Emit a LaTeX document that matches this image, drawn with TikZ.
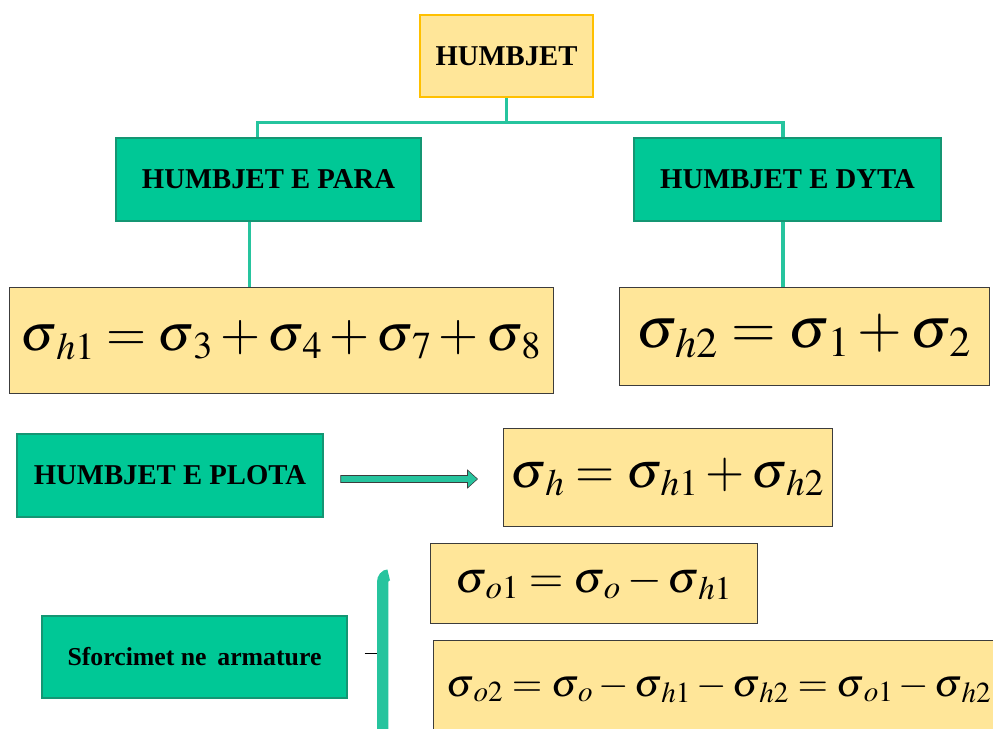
\documentclass[tikz,border=0pt]{standalone}
\usepackage{mathptmx}
\usepackage{fontspec}
\setmainfont{Liberation Serif}
\usetikzlibrary{arrows.meta, calc}

\definecolor{tealbox}{RGB}{0,200,150}
\definecolor{tealedge}{RGB}{20,150,115}
\definecolor{tealline}{RGB}{38,196,158}
\definecolor{sand}{RGB}{255,230,153}
\definecolor{gold}{RGB}{255,192,0}
\definecolor{inkgray}{RGB}{60,60,60}

%% sigma with a slightly detached subscript
\newcommand\sg[1]{\sigma_{\,#1}}

\begin{document}
\begin{tikzpicture}[
  x=0.03cm, y=-0.03cm,
  %% ── node styles ────────────────────────────────────────────────────
  %% Green title boxes
  G/.style  ={rectangle, draw=tealedge, fill=tealbox, line width=1.2pt,
               minimum height=2.49cm, align=center,
               font=\fontsize{24.5}{27}\selectfont\bfseries},
  %% Yellow formula boxes
  F/.style  ={rectangle, draw=inkgray, fill=sand, line width=0.8pt,
               align=center},
  %% Tree connectors
  tree/.style={line width=3pt, tealline},
  %% Brace bar
  bar/.style={line width=3.4mm, tealline},
]

\useasboundingbox (0,0) rectangle (993,728);

%% ════════════════════════════════════════════════════════════════════
%% TREE  (root + two branches)
%% ════════════════════════════════════════════════════════════════════

\node[rectangle, draw=gold, fill=sand, line width=2.4pt,
      minimum width=5.19cm, minimum height=2.46cm,
      font=\fontsize{24.5}{27}\selectfont\bfseries] (hum) at (506.5, 56)
  {HUMBJET};

\node[G, minimum width=9.15cm] (para) at (268.5, 179.5) {HUMBJET E PARA};
\node[G, minimum width=9.21cm] (dyta) at (787.5, 179.5) {HUMBJET E DYTA};

\draw[tree] (hum.south) -- ++(0,24) -| ([xshift=-0.33cm]para.north);
\draw[tree] (hum.south) -- ++(0,24) -| ([xshift=-0.13cm]dyta.north);

%% Row 2 — formulas under the branches
\node[F, minimum width=16.32cm, minimum height=3.18cm] (fh1) at (281, 340)
  {\fontsize{44}{48}\selectfont
   $\sg{h1} = \sg{3} + \sg{4} + \sg{7} + \sg{8}$};
\node[F, minimum width=11.1cm, minimum height=2.94cm] (fh2) at (804, 336)
  {\fontsize{49}{52}\selectfont
   $\sg{h2} = \sg{1} + \sg{2}$};

\draw[tree] ([xshift=-0.57cm]para.south) -- ([xshift=-0.57cm]para.south |- fh1.north);
\draw[tree] ([xshift=-0.13cm]dyta.south) -- ([xshift=-0.13cm]dyta.south |- fh2.north);

%% ════════════════════════════════════════════════════════════════════
%% TOTAL LOSSES
%% ════════════════════════════════════════════════════════════════════

\node[G, minimum width=9.18cm] (plota) at (170, 475.5) {HUMBJET E PLOTA};
\node[F, minimum width=9.87cm, minimum height=2.94cm] (fh) at (667.5, 477)
  {\fontsize{43}{46}\selectfont
   $\sg{h} = \sg{h1} + \sg{h2}$};

%% Block arrow between the two
\coordinate (a0) at ($(plota.east)+(17,3.5)$);
\coordinate (a1) at ($(fh.west)+(-25,2)$);
\filldraw[fill=tealline, draw=inkgray, line width=0.5pt]
  ($(a0)+(0,-3.5)$) -- ($(a1)+(-10,-3.5)$) -- ++(0,-5.5) -- (a1)
  -- ($(a1)+(-10,9)$) -- ++(0,-5.5) -- ($(a0)+(0,3.5)$) -- cycle;

%% ════════════════════════════════════════════════════════════════════
%% STRESSES IN THE REINFORCEMENT
%% ════════════════════════════════════════════════════════════════════

\node[G, minimum width=9.15cm, minimum height=2.46cm,
      font=\fontsize{22}{24}\selectfont\bfseries] (sfor) at (194.5, 657)
  {Sforcimet ne\, armature};

\node[F, minimum width=9.81cm, minimum height=2.4cm] (fo1) at (593.5, 583)
  {\fontsize{38}{41}\selectfont
   $\sg{o1} = \sg{o} - \sg{h1}$};
\node[F, minimum width=17.16cm, minimum height=2.88cm] (fo2) at (719, 688)
  {\fontsize{33.5}{36}\selectfont
   $\sg{o2} = \sg{o} - \sg{h1} - \sg{h2} = \sg{o1} - \sg{h2}$};

%% Brace (left curly, cut by the page edge)
\coordinate (btop) at ($(sfor.east)+(35,-80)$);
\coordinate (bbot) at ($(sfor.east)+(35,90)$);
\draw[bar] ($(btop)+(6,-2)$) to[out=180,in=90] ($(btop)+(0,5)$) -- (bbot);
\draw[line width=0.8pt, black] ($(sfor.east)+(17,-4)$) -- ($(sfor.east)+(29,-4)$);

\end{tikzpicture}
\end{document}
